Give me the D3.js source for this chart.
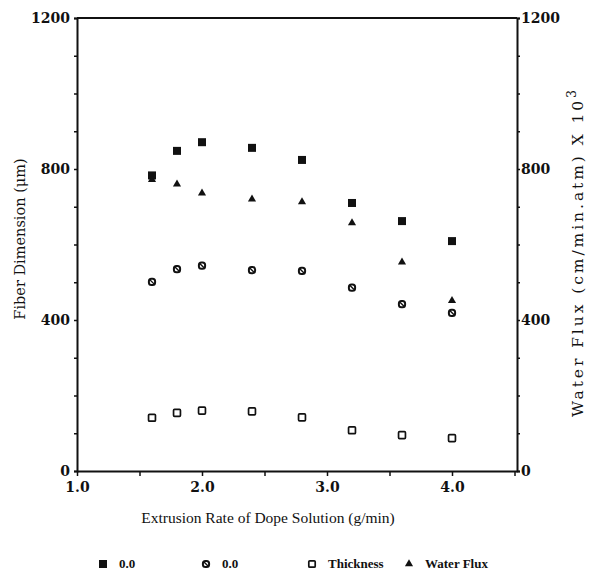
<!DOCTYPE html>
<html><head><meta charset="utf-8">
<script src="https://cdn.jsdelivr.net/npm/d3@7"></script>
<style>body{margin:0;background:#fff}svg text{font-family:"DejaVu Serif",serif;fill:#111}</style>
</head><body>
<svg id="c" width="589" height="574"></svg>
<script>
const rates = [1.6, 1.8, 2.0, 2.4, 2.8, 3.2, 3.6, 4.0];
const outerDia = [783, 848, 871, 856, 824, 710, 662, 609];
const innerDia = [501, 535, 544, 532, 530, 486, 442, 419];
const thickness = [141, 154, 160, 158, 142, 108, 95, 87];
const waterFlux = [772, 760, 736, 720, 713, 657, 553, 451];
const xTicks = [1.0, 2.0, 3.0, 4.0];
const yTicks = [0, 400, 800, 1200];
const legendLabels = ["0.0", "0.0", "Thickness", "Water Flux"];

const svg = d3.select("#c");
const L = 77, R = 517, T = 18, B = 471;
const x = d3.scaleLinear().domain([1.0, 4.52]).range([L, R]);
const y = d3.scaleLinear().domain([0, 1200]).range([B, T]);
const y2 = d3.scaleLinear().domain([0, 1200]).range([B, T]);

// frame
svg.append("line").attr("x1", L).attr("x2", R).attr("y1", T).attr("y2", T).attr("stroke", "#111").attr("stroke-width", 1.8);

// left axis
const ax = svg.append("g").attr("transform", `translate(${L},0)`)
  .call(d3.axisLeft(y).tickValues(d3.range(0, 1201, 100)).tickSize(3).tickFormat(d => yTicks.includes(d) ? d : ""));
ax.select(".domain").attr("stroke-width", 2);
ax.selectAll("text").attr("font-size", 14).attr("font-weight", "bold").attr("dx", "-1");

// right axis
const ax2 = svg.append("g").attr("transform", `translate(${R},0)`)
  .call(d3.axisRight(y2).tickValues(d3.range(0, 1201, 100)).tickSize(3).tickFormat(d => yTicks.includes(d) ? d : ""));
ax2.select(".domain").attr("stroke-width", 2);
ax2.selectAll("text").attr("font-size", 14).attr("font-weight", "bold").attr("dx", "-2");

// bottom axis
const bx = svg.append("g").attr("transform", `translate(0,${B})`)
  .call(d3.axisBottom(x).tickValues(d3.range(1.0, 4.51, 0.5)).tickSize(5).tickSizeOuter(0).tickFormat(d => xTicks.some(t => Math.abs(t - d) < 1e-9) ? d3.format(".1f")(d) : ""));
bx.select(".domain").attr("stroke-width", 2);
bx.selectAll("text").attr("font-size", 14).attr("font-weight", "bold").attr("dy", "0.95em");
svg.selectAll(".tick line").attr("stroke", "#111").attr("stroke-width", 1.5);
svg.selectAll(".domain").attr("stroke", "#111");
svg.selectAll(".tick text").attr("fill", "#111");

// titles
svg.append("text").attr("x", 268).attr("y", 523).attr("text-anchor", "middle").attr("font-size", 15.5)
  .style("font-family", "'Liberation Serif',serif").text("Extrusion Rate of Dope Solution (g/min)");
svg.append("text").attr("transform", "translate(25,239) rotate(-90)").attr("text-anchor", "middle").attr("font-size", 14.5).text("Fiber Dimension (\u03BCm)");
const rt = svg.append("text").attr("transform", "translate(583,252) rotate(-90)").attr("text-anchor", "middle").attr("font-size", 15.5);
rt.append("tspan").text("Water Flux (cm/min.atm) X 10");
rt.append("tspan").attr("dy", "-0.6em").attr("font-size", 12.5).text("3");
// stretch spacing to match the reference's span of ~330px
const len = rt.node().getComputedTextLength();
const nChars = "Water Flux (cm/min.atm) X 103".length;
rt.attr("letter-spacing", Math.max(0, (330 - len) / nChars));

// marker drawers
function filledSq(g, s) { g.append("rect").attr("x", -s/2).attr("y", -s/2).attr("width", s).attr("height", s).attr("fill", "#111"); }
function openSq(g, s) { g.append("rect").attr("x", -s/2 + 0.8).attr("y", -s/2 + 0.8).attr("width", s - 1.6).attr("height", s - 1.6).attr("rx", 1).attr("fill", "#fff").attr("stroke", "#111").attr("stroke-width", 1.7); }
function circX(g, s) {
  g.append("rect").attr("x", -s/2 + 0.9).attr("y", -s/2 + 0.9).attr("width", s - 1.8).attr("height", s - 1.8).attr("rx", 2.5).attr("fill", "#fff").attr("stroke", "#111").attr("stroke-width", 2);
  g.append("line").attr("x1", -s/4).attr("y1", -s/4).attr("x2", s/4).attr("y2", s/4).attr("stroke", "#111").attr("stroke-width", 1.4);
}
function tri(g, s) { g.append("path").attr("d", d3.symbol(d3.symbolTriangle, s * s * 0.45)()).attr("fill", "#111"); }

const series = [
  {vals: outerDia, draw: filledSq, size: 8},
  {vals: innerDia, draw: circX, size: 8},
  {vals: thickness, draw: openSq, size: 8.5},
  {vals: waterFlux, draw: tri, size: 8, scale: y2}
];
series.forEach(s => {
  const sc = s.scale || y;
  rates.forEach((r, i) => {
    const g = svg.append("g").attr("transform", `translate(${x(r)},${sc(s.vals[i])})`);
    s.draw(g, s.size);
  });
});

// legend
const lx = [103, 206, 312, 409];
series.forEach((s, i) => {
  const g = svg.append("g").attr("transform", `translate(${lx[i]},564)`);
  s.draw(g, 8);
  svg.append("text").attr("x", lx[i] + 16).attr("y", 568).attr("font-size", 13).attr("font-weight", "bold")
    .style("font-family", "'Liberation Serif',serif").text(legendLabels[i]);
});
</script>
</body></html>
